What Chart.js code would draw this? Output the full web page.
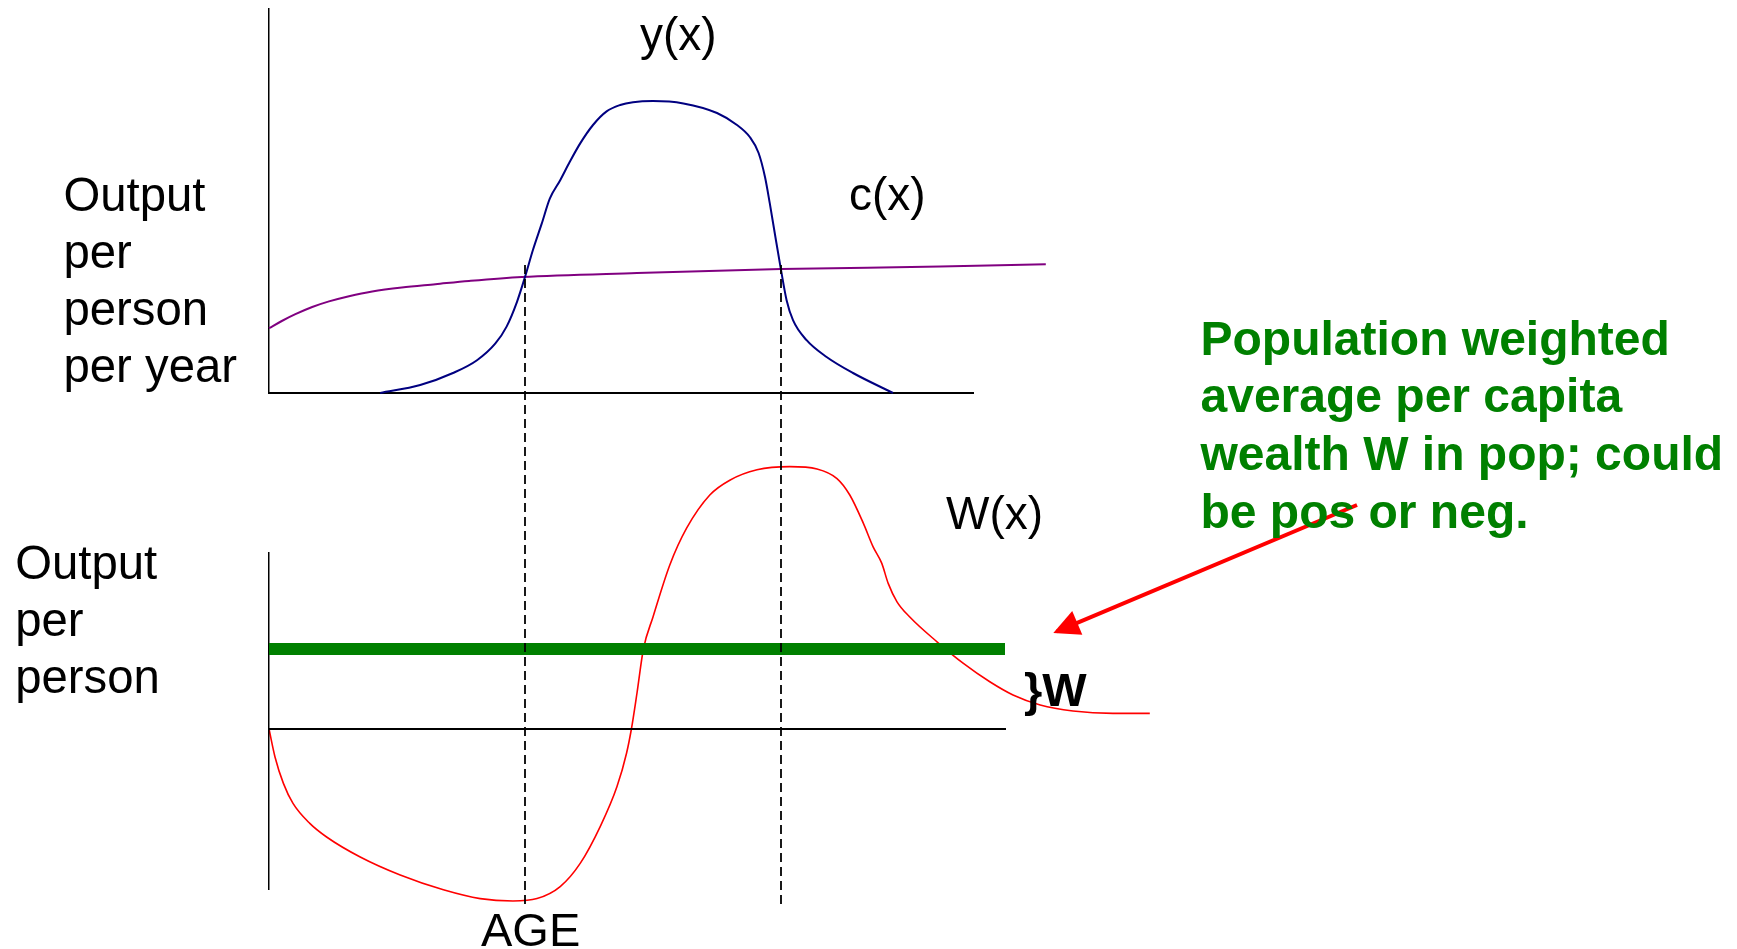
<!DOCTYPE html>
<html>
<head>
<meta charset="utf-8">
<script src="https://cdn.jsdelivr.net/npm/chart.js@4.4.1/dist/chart.umd.min.js"></script>
<style>
html, body { margin: 0; padding: 0; background: #fff; width: 1737px; height: 949px; overflow: hidden; }
#wrap { position: relative; width: 1737px; height: 949px; }
canvas { position: absolute; left: 0; top: 0; }
.lbl { position: absolute; font-family: "Liberation Sans", Arial, Helvetica, sans-serif; white-space: nowrap; color: #000; }
</style>
</head>
<body>
<div id="wrap">
  <canvas id="topChart" width="1737" height="949"></canvas>
  <canvas id="curveChart" width="1737" height="949"></canvas>
  <canvas id="botChart" width="1737" height="949"></canvas>
</div>
<script>
// ---------- DATA ----------
// Top panel: output y(x) and consumption c(x) against age
const yAge    = [13.9, 18.9, 23.0, 26.0, 28.3, 29.7, 31.0, 32.0, 33.0, 34.1, 35.1, 36.4, 37.6, 38.9, 40.5, 42.2, 43.9, 45.5, 48.0, 51.8, 56.0, 58.5, 60.1, 61.2, 62.0, 62.6, 63.3, 64.0, 64.7, 65.5, 67.2, 69.7, 73.0, 78.0];
const yOutput = [0, 1.0, 2.5, 4.1, 6.2, 8.3, 11.4, 14.5, 17.9, 21.2, 24.3, 26.6, 28.9, 31.2, 33.5, 35.2, 36.0, 36.35, 36.5, 36.2, 35.0, 33.5, 32.0, 30.0, 27.0, 23.7, 19.5, 15.4, 11.6, 9.1, 6.6, 4.5, 2.5, 0];
const cAge    = [0, 1.6, 3.3, 5.4, 7.5, 10.0, 12.9, 16.6, 20.8, 25.0, 31.6, 46.0, 64.0, 83.9, 97.1];
const cCons   = [8.1, 9.0, 9.85, 10.75, 11.45, 12.1, 12.7, 13.2, 13.6, 14.0, 14.5, 15.0, 15.5, 15.8, 16.1];

// Bottom panel: wealth W(x) against age
const wAge    = [0, 0.75, 1.8, 3.0, 5.1, 7.2, 11.4, 16.4, 21.8, 26.4, 30.5, 33.5, 36.4, 38.9, 41.4, 43.5, 44.7, 45.3, 46.0, 46.8, 48.0, 50.1, 52.2, 55.1, 57.6, 61.0, 65.1, 68.5, 71.0, 72.6, 74.3, 75.5, 76.6, 77.4, 78.5, 80.1, 83.5, 86.8, 90.1, 93.0, 96.4, 100.5, 105.5, 110.1];
const wWealth = [0, -3.5, -6.8, -9.3, -11.8, -13.5, -16.0, -18.25, -20.1, -21.2, -21.5, -21.2, -19.7, -16.8, -12.2, -7.2, -3.0, 0, 4.5, 10.0, 14.0, 20.5, 25.1, 29.25, 31.1, 32.4, 32.8, 32.5, 31.3, 29.25, 25.7, 22.8, 20.7, 18.2, 15.9, 14.0, 10.9, 8.2, 5.9, 4.25, 3.0, 2.25, 1.95, 1.95];

// Population weighted average wealth W
const avgWAge   = [0, 92];
const avgWValue = [10, 10];

// Ages where y(x) crosses c(x) (dashed guides), spanning from top panel down past the AGE axis
const crossAges   = [32.0, 64.0];
const guideYRange = [58, -22];   // in bottom-panel units

// Annotation arrow (bottom-panel units): from text to the W line
const arrowAge   = [136, 98.5];
const arrowValue = [28, 12.2];

// Axis ranges (8 px per unit on every axis)
const topXRange   = [0, 88],  topYRange = [0, 48];
const botXRange   = [0, 92],  botYRange = [-20, 22];
const curveXRange = [0, 140];           // wider index range so W(x) tail and arrow are not truncated

// ---------- helpers ----------
const zip = (xs, ys) => xs.map((x, i) => ({ x: x, y: ys[i] }));

function axisOpts(range, borderWidth, extra) {
  return Object.assign({
    type: 'linear',
    min: range[0], max: range[1],
    grid: { display: false, drawTicks: false },
    ticks: { display: false },
    border: { display: true, color: '#000', width: borderWidth }
  }, extra || {});
}

const common = {
  responsive: false,
  maintainAspectRatio: false,
  animation: false,
  events: [],
  plugins: { legend: { display: false }, tooltip: { enabled: false }, title: { display: false } },
  elements: { point: { radius: 0, hoverRadius: 0 } }
};

// ---------- top chart ----------
new Chart(document.getElementById('topChart'), {
  type: 'scatter',
  data: {
    datasets: [
      { label: 'y(x)', data: zip(yAge, yOutput), showLine: true, borderColor: '#000080', borderWidth: 2,
        cubicInterpolationMode: 'monotone', pointRadius: 0, clip: false, order: 0 },
      { label: 'c(x)', data: zip(cAge, cCons), showLine: true, borderColor: '#800080', borderWidth: 2,
        cubicInterpolationMode: 'monotone', pointRadius: 0, clip: false, order: 1 }
    ]
  },
  options: Object.assign({}, common, {
    layout: { padding: { left: 269, top: 9, right: 1737 - 973, bottom: 949 - 393 } },
    scales: {
      x: axisOpts(topXRange, 2, { position: 'bottom' }),
      y: axisOpts(topYRange, 1.5, { position: 'left' })
    }
  })
});

// ---------- arrowhead plugin ----------
const arrowHead = {
  id: 'arrowHead',
  afterDatasetsDraw(chart) {
    chart.data.datasets.forEach((ds, i) => {
      if (ds.label !== 'arrow') return;
      const meta = chart.getDatasetMeta(i);
      const p0 = meta.data[0], p1 = meta.data[1];
      const dx = p1.x - p0.x, dy = p1.y - p0.y;
      const len = Math.hypot(dx, dy);
      const ux = dx / len, uy = dy / len;
      const tipX = p1.x + 4 * ux, tipY = p1.y + 4 * uy;
      const bx = tipX - 26 * ux, by = tipY - 26 * uy;
      const ctx = chart.ctx;
      ctx.save();
      ctx.fillStyle = ds.borderColor;
      ctx.beginPath();
      ctx.moveTo(tipX, tipY);
      ctx.lineTo(bx - 13 * uy, by + 13 * ux);
      ctx.lineTo(bx + 13 * uy, by - 13 * ux);
      ctx.closePath();
      ctx.fill();
      ctx.restore();
    });
  }
};

// ---------- bottom panel: W(x) curve and arrow (hidden axes, same scale as bottom axes) ----------
new Chart(document.getElementById('curveChart'), {
  type: 'scatter',
  data: {
    datasets: [
      { label: 'W(x)', data: zip(wAge, wWealth), showLine: true, borderColor: '#ff0000', borderWidth: 1.6,
        cubicInterpolationMode: 'monotone', pointRadius: 0, clip: false, order: 1 },
      { label: 'arrow', data: zip(arrowAge, arrowValue), showLine: true, borderColor: '#ff0000', borderWidth: 4,
        borderCapStyle: 'butt', pointRadius: 0, clip: false, order: 0 }
    ]
  },
  options: Object.assign({}, common, {
    layout: { padding: { left: 269, top: 553, right: 1737 - (269 + 8 * curveXRange[1]), bottom: 949 - 889 } },
    scales: {
      x: axisOpts(curveXRange, 0, { display: false }),
      y: axisOpts(botYRange, 0, { display: false })
    }
  }),
  plugins: [arrowHead]
});

// ---------- bottom panel: axes, average W line, dashed guides ----------
const guideSets = crossAges.map(a => ({
  label: 'guide', data: zip([a, a], guideYRange), showLine: true, borderColor: '#000', borderWidth: 1.8,
  borderDash: [9, 5], pointRadius: 0, clip: false, order: 0
}));

new Chart(document.getElementById('botChart'), {
  type: 'scatter',
  data: {
    datasets: [
      { label: 'W', data: zip(avgWAge, avgWValue), showLine: true, borderColor: '#008000', borderWidth: 12,
        borderCapStyle: 'butt', pointRadius: 0, clip: false, order: 1 },
      ...guideSets
    ]
  },
  options: Object.assign({}, common, {
    layout: { padding: { left: 269, top: 553, right: 1737 - 1005, bottom: 949 - 889 } },
    scales: {
      x: axisOpts(botXRange, 2, { position: { y: 0 } }),
      y: axisOpts(botYRange, 1.5, { position: 'left' })
    }
  })
});

// ---------- text labels ----------
function label(lines, left, baseline, fs, lh, style) {
  const d = document.createElement('div');
  d.className = 'lbl';
  d.style.fontSize = fs + 'px';
  d.style.lineHeight = lh + 'px';
  d.style.left = left + 'px';
  d.style.top = (baseline - ((lh - 1.117 * fs) / 2 + 0.905 * fs)) + 'px';
  Object.assign(d.style, style || {});
  lines.forEach((t, i) => {
    if (i) d.appendChild(document.createElement('br'));
    d.appendChild(document.createTextNode(t));
  });
  document.getElementById('wrap').appendChild(d);
}

label(['Output', 'per', 'person', 'per year'], 63.5, 210.7, 47.3, 57);
label(['Output', 'per', 'person'], 15.2, 578.6, 47.3, 57.1);
label(['y(x)'], 640, 50, 46, 46);
label(['c(x)'], 849, 210, 46, 46);
label(['W(x)'], 946, 529.3, 46, 46);
label(['}W'], 1024, 706, 47, 47, { fontWeight: 'bold' });
label(['AGE'], 481, 946, 47, 47);
label(['Population weighted', 'average per capita', 'wealth W in pop; could', 'be pos or neg.'],
      1200.5, 355, 48, 57.7, { fontWeight: 'bold', color: '#008000' });
</script>
</body>
</html>
